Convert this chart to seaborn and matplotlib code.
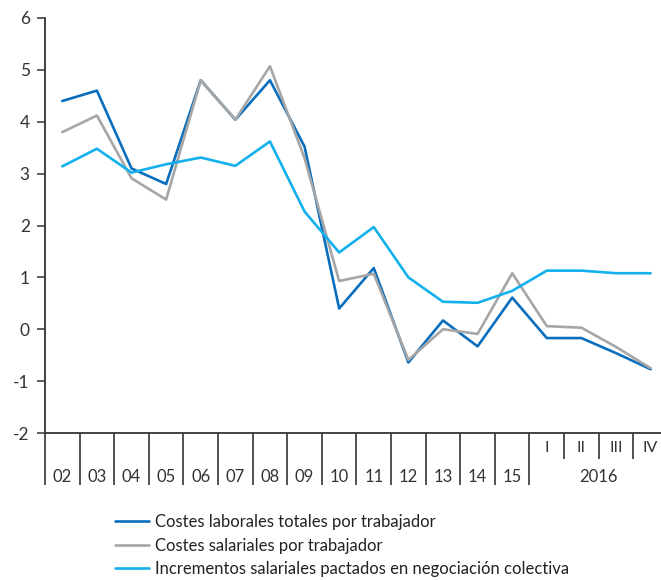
import numpy as np
import pandas as pd
import matplotlib
matplotlib.use("Agg")
import matplotlib.pyplot as plt
import matplotlib.transforms as mtransforms
import seaborn as sns

# Periods: annual averages 2002-2015, then quarters of 2016
years = ["02", "03", "04", "05", "06", "07", "08", "09", "10", "11", "12", "13", "14", "15"]
quarters = ["I", "II", "III", "IV"]
quarter_year = "2016"

costes_laborales = [4.4, 4.6, 3.1, 2.8, 4.8, 4.04, 4.8, 3.52, 0.4, 1.18, -0.64, 0.17, -0.33, 0.61,
                    -0.17, -0.17, -0.46, -0.77]
costes_salariales = [3.8, 4.12, 2.91, 2.5, 4.8, 4.04, 5.07, 3.3, 0.93, 1.07, -0.59, 0.0, -0.09, 1.08,
                     0.06, 0.03, -0.34, -0.75]
incrementos_pactados = [3.14, 3.48, 3.02, 3.18, 3.31, 3.15, 3.62, 2.27, 1.48, 1.97, 1.0, 0.53, 0.51, 0.74,
                        1.13, 1.13, 1.08, 1.08]

series_names = [
    "Costes laborales totales por trabajador",
    "Costes salariales por trabajador",
    "Incrementos salariales pactados en negociación colectiva",
]
series_colors = ["#0a6ebd", "#a6a6a6", "#13b0ec"]

periods = years + quarters
pos = np.arange(len(periods))
df = pd.concat([
    pd.DataFrame({"pos": pos, "valor": vals, "serie": name})
    for name, vals in zip(series_names, [costes_laborales, costes_salariales, incrementos_pactados])
])

sns.set_theme(style="white")
plt.rcParams["font.family"] = ["Lato", "DejaVu Sans"]

fig = plt.figure(figsize=(6.61, 5.80), dpi=100)
W, H = 661, 580
ax = fig.add_axes([45 / W, 1 - 433 / H, (W - 45) / W, (433 - 18) / H])

sns.lineplot(data=df, x="pos", y="valor", hue="serie", hue_order=series_names,
             palette=series_colors, linewidth=1.9, ax=ax, legend=False,
             sort=False, estimator=None)

ax.set_ylim(-2, 6)
ax.set_xlim(-0.5, 17.3)
ax.set_yticks(range(-2, 7))
ax.set_yticklabels([str(v) for v in range(-2, 7)])
ax.set_xticks([])
ax.set_xlabel("")
ax.set_ylabel("")

axis_color = "#333333"
for side in ["top", "right"]:
    ax.spines[side].set_visible(False)
for side in ["left", "bottom"]:
    ax.spines[side].set_color(axis_color)
    ax.spines[side].set_linewidth(1.3)

ax.tick_params(axis="y", which="both", left=True, direction="out", length=6, width=1.1,
               color=axis_color, labelcolor=axis_color, labelsize=12.5, pad=5)

# Category separators and labels below the axis
trans = mtransforms.blended_transform_factory(ax.transData, ax.transAxes)
n_years = len(years)
long_drop = -52 / 415
short_drop = -26 / 415
for b in range(n_years + 1):
    ax.plot([b - 0.5, b - 0.5], [0, long_drop], transform=trans, color=axis_color,
            lw=1.2, clip_on=False, solid_capstyle="butt")
for q in range(1, len(quarters)):
    x = n_years + q - 0.5
    ax.plot([x, x], [0, short_drop], transform=trans, color=axis_color,
            lw=1.2, clip_on=False, solid_capstyle="butt")

for i, lab in enumerate(years):
    ax.text(i, -44 / 415, lab, transform=trans, ha="center", va="center",
            fontsize=12, color=axis_color)
for j, lab in enumerate(quarters):
    ax.text(n_years + j, -15 / 415, lab, transform=trans, ha="center", va="center",
            fontsize=11.5, color=axis_color)
ax.text(n_years + (len(quarters) - 1) / 2, -44 / 415, quarter_year, transform=trans,
        ha="center", va="center", fontsize=12, color=axis_color)

# Legend below the chart
handles = [plt.Line2D([], [], color=c, lw=1.9) for c in series_colors]
fig.legend(handles, series_names, loc="upper left", bbox_to_anchor=(115 / W, 1 - 514 / H),
           frameon=False, fontsize=12, handlelength=2.05, handletextpad=0.36,
           labelspacing=0.45, borderpad=0, borderaxespad=0, labelcolor="#222222")

fig.savefig("out.png", dpi=100)
